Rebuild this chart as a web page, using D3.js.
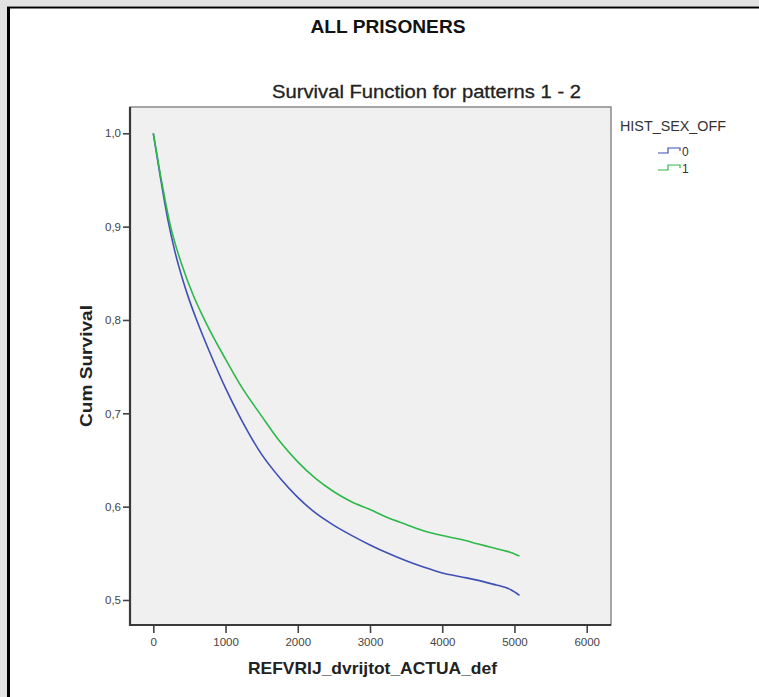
<!DOCTYPE html>
<html><head><meta charset="utf-8">
<script src="https://cdn.jsdelivr.net/npm/d3@7"></script>
<style>
html,body{margin:0;padding:0;background:#fff;}
svg{display:block;}
</style></head>
<body>
<svg id="c" width="759" height="697"></svg>
<script>
const xTicks = [0,1000,2000,3000,4000,5000,6000];
const yTicks = [0.5,0.6,0.7,0.8,0.9,1.0];
const seriesNames = ["0","1"];
const timeBlue = [0,100,200,300,400,500,600,800,1000,1200,1500,1750,2000,2250,2500,2750,3000,3250,3500,3750,4000,4250,4500,4700,4850,4950,5070];
const survBlue = [1.0,0.952,0.908,0.873,0.845,0.821,0.800,0.762,0.727,0.696,0.656,0.631,0.610,0.593,0.580,0.569,0.559,0.550,0.542,0.535,0.529,0.525,0.521,0.517,0.514,0.511,0.505];
const timeGreen = [0,100,240,400,550,730,1000,1200,1500,1750,2000,2250,2500,2750,3000,3250,3500,3750,4000,4250,4500,4700,4850,4950,5070];
const survGreen = [1.0,0.955,0.900,0.858,0.827,0.797,0.758,0.731,0.697,0.670,0.648,0.630,0.616,0.605,0.597,0.588,0.581,0.574,0.569,0.565,0.560,0.556,0.553,0.551,0.547];
const colors = ["#3e50b4","#2eb84a"];

const svg = d3.select("#c");
const FF = "Liberation Sans, Arial, sans-serif";
// outer frame
svg.append("rect").attr("x",0).attr("y",0).attr("width",759).attr("height",697).attr("fill","#e2e2e2");
svg.append("rect").attr("x",7).attr("y",6).attr("width",760).attr("height",700).attr("fill","#fff");
svg.append("line").attr("x1",8.5).attr("x2",8.5).attr("y1",7).attr("y2",697).attr("stroke","#000").attr("stroke-width",3);
svg.append("line").attr("x1",7).attr("x2",759).attr("y1",7.5).attr("y2",7.5).attr("stroke","#000").attr("stroke-width",2);

const L=130, R=611, T=107, B=625;
const x = d3.scaleLinear().domain([0,6000]).range([153.3,586.7]);
const y = d3.scaleLinear().domain([0.5,1.0]).range([600,133.3]);

svg.append("rect").attr("x",L).attr("y",T).attr("width",R-L).attr("height",B-T)
  .attr("fill","#f0f0f0").attr("stroke","#8a8a8a").attr("stroke-width",1.5);

// axes
const gy = svg.append("g").attr("transform",`translate(${L},0)`)
  .call(d3.axisLeft(y).tickValues(yTicks).tickSize(7).tickPadding(2).tickFormat(d=>d3.format(".1f")(d).replace(".",",")));
const gx = svg.append("g").attr("transform",`translate(0,${B})`)
  .call(d3.axisBottom(x).tickValues(xTicks).tickSize(8).tickPadding(5).tickFormat(d3.format("d")));
[gy,gx].forEach(g=>{
  g.select(".domain").remove();
  g.selectAll(".tick line").attr("stroke","#444").attr("stroke-width",1.6);
  g.selectAll("text").attr("fill","#444").style("font-family",FF).style("font-size","11.5px");
});
svg.append("line").attr("x1",L).attr("x2",L).attr("y1",T).attr("y2",B+1).attr("stroke","#3a3a3a").attr("stroke-width",2.2);
svg.append("line").attr("x1",L-1).attr("x2",R).attr("y1",B).attr("y2",B).attr("stroke","#3a3a3a").attr("stroke-width",2.2);

// curves
const line = d3.line().x(d=>x(d[0])).y(d=>y(d[1])).curve(d3.curveMonotoneX);
const data = [d3.zip(timeBlue,survBlue), d3.zip(timeGreen,survGreen)];
data.forEach((d,i)=>{
  svg.append("path").datum(d).attr("d",line).attr("fill","none")
    .attr("stroke",colors[i]).attr("stroke-width",1.6);
});

// titles
svg.append("text").attr("x",388).attr("y",33).attr("text-anchor","middle")
  .style("font-family",FF).style("font-weight","bold").style("font-size","18.5px")
  .attr("textLength",155).attr("lengthAdjust","spacingAndGlyphs")
  .attr("fill","#111").text("ALL PRISONERS");
svg.append("text").attr("x",426.5).attr("y",98).attr("text-anchor","middle")
  .style("font-family",FF).style("font-size","18px").style("font-weight","500")
  .attr("textLength",309).attr("lengthAdjust","spacingAndGlyphs")
  .attr("fill","#222").attr("stroke","#222").attr("stroke-width",0.3).text("Survival Function for patterns 1 - 2");
svg.append("text").attr("transform","translate(92,366) rotate(-90)").attr("text-anchor","middle")
  .style("font-family",FF).style("font-weight","bold").style("font-size","17px")
  .attr("textLength",122).attr("lengthAdjust","spacingAndGlyphs")
  .attr("fill","#222").text("Cum Survival");
svg.append("text").attr("x",372.5).attr("y",674).attr("text-anchor","middle")
  .style("font-family",FF).style("font-weight","bold").style("font-size","17px")
  .attr("textLength",249).attr("lengthAdjust","spacingAndGlyphs")
  .attr("fill","#222").text("REFVRIJ_dvrijtot_ACTUA_def");

// legend
svg.append("text").attr("x",620).attr("y",131)
  .style("font-family",FF).style("font-size","14px")
  .attr("textLength",106).attr("lengthAdjust","spacingAndGlyphs")
  .attr("fill","#333").text("HIST_SEX_OFF");
seriesNames.forEach((n,i)=>{
  const yy = 152 + i*17;
  svg.append("path").attr("d",`M658,${yy+1}H668V${yy-4}H680V${yy-1}`)
    .attr("fill","none").attr("stroke",colors[i]).attr("stroke-width",1.2);
  svg.append("text").attr("x",682).attr("y",yy+4)
    .style("font-family",FF).style("font-size","12px")
    .attr("fill","#333").text(n);
});
</script>
</body></html>
